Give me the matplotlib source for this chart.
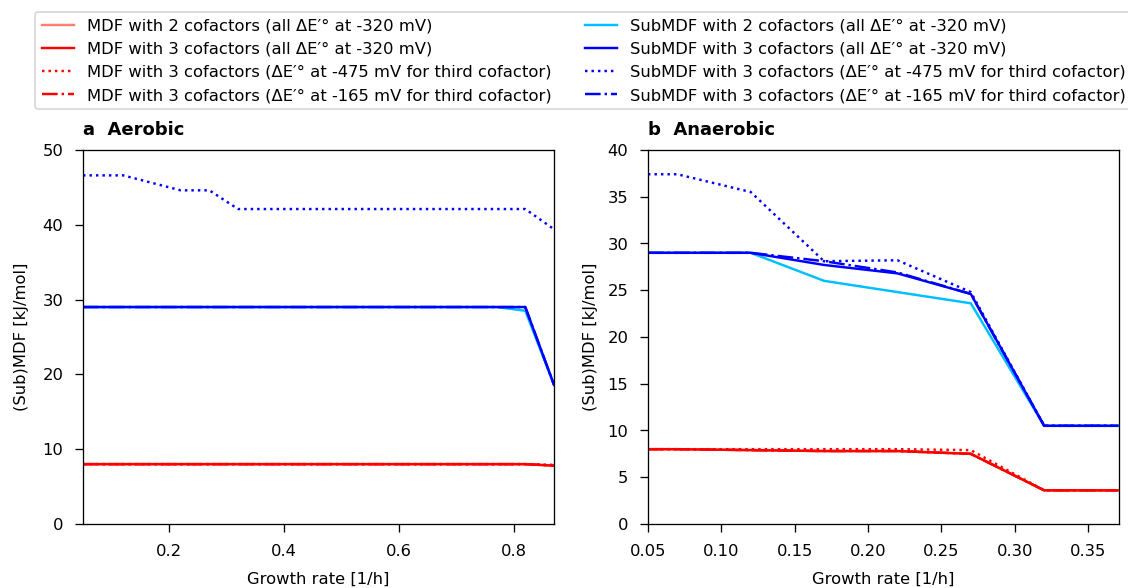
#(Sub)MDF vs growth rate, aerobic and anaerobic

import matplotlib
matplotlib.use('Agg')
import matplotlib.pyplot as plt

#AEROBIC DATA
aer_rate = [0.05, 0.07, 0.12, 0.17, 0.22, 0.27, 0.32, 0.37, 0.42, 0.47,
            0.52, 0.57, 0.62, 0.67, 0.72, 0.77, 0.82, 0.87]
aer_mdf2 = [8.0] * 17 + [7.8]
aer_mdf3 = [8.0] * 17 + [7.8]
aer_mdf3_475 = [8.0] * 17 + [7.9]
aer_mdf3_165 = [8.0] * 17 + [7.8]
aer_sub2 = [29.0] * 16 + [28.5, 18.6]
aer_sub3 = [29.0] * 17 + [18.6]
aer_sub3_475 = [46.6, 46.6, 46.6, 45.6, 44.6, 44.6] + [42.1] * 11 + [39.4]
aer_sub3_165 = [29.0] * 17 + [18.6]

#ANAEROBIC DATA
ana_rate = [0.05, 0.07, 0.12, 0.17, 0.22, 0.27, 0.32, 0.37]
ana_mdf2 = [8.0, 8.0, 7.9, 7.8, 7.8, 7.5, 3.6, 3.6]
ana_mdf3 = [8.0, 8.0, 7.9, 7.8, 7.8, 7.5, 3.6, 3.6]
ana_mdf3_475 = [8.0, 8.0, 8.0, 8.0, 8.0, 7.9, 3.6, 3.6]
ana_mdf3_165 = [8.0, 8.0, 7.9, 7.8, 7.8, 7.5, 3.6, 3.6]
ana_sub2 = [29.0, 29.0, 29.0, 26.0, 24.8, 23.6, 10.5, 10.5]
ana_sub3 = [29.0, 29.0, 29.0, 27.7, 26.8, 24.6, 10.5, 10.5]
ana_sub3_475 = [37.4, 37.4, 35.5, 28.1, 28.2, 24.8, 10.5, 10.5]
ana_sub3_165 = [29.0, 29.0, 29.0, 28.1, 26.9, 24.6, 10.5, 10.5]

labels = [
    "MDF with 2 cofactors (all ΔE′° at -320 mV)",
    "MDF with 3 cofactors (all ΔE′° at -320 mV)",
    "MDF with 3 cofactors (ΔE′° at -475 mV for third cofactor)",
    "MDF with 3 cofactors (ΔE′° at -165 mV for third cofactor)",
    "SubMDF with 2 cofactors (all ΔE′° at -320 mV)",
    "SubMDF with 3 cofactors (all ΔE′° at -320 mV)",
    "SubMDF with 3 cofactors (ΔE′° at -475 mV for third cofactor)",
    "SubMDF with 3 cofactors (ΔE′° at -165 mV for third cofactor)",
]
colors = ['salmon', 'red', 'red', 'red', 'deepskyblue', 'blue', 'blue', 'blue']
styles = ['-', '-', ':', '-.', '-', '-', ':', '-.']

aer_series = [aer_mdf2, aer_mdf3, aer_mdf3_475, aer_mdf3_165,
              aer_sub2, aer_sub3, aer_sub3_475, aer_sub3_165]
ana_series = [ana_mdf2, ana_mdf3, ana_mdf3_475, ana_mdf3_165,
              ana_sub2, ana_sub3, ana_sub3_475, ana_sub3_165]

plt.rcParams['xtick.major.size'] = 5
plt.rcParams['ytick.major.size'] = 5
plt.rcParams['xtick.major.pad'] = 7
plt.rcParams['ytick.major.pad'] = 7

fig = plt.figure(figsize=(9.6, 5.005), dpi=117.5)
W, H = 1128, 588
ax1 = fig.add_axes([83 / W, 1 - 524 / H, (554 - 83) / W, (524 - 150) / H])
ax2 = fig.add_axes([648 / W, 1 - 524 / H, (1119 - 648) / W, (524 - 150) / H])

handles = []
for y, c, s, lab in zip(aer_series, colors, styles, labels):
    h, = ax1.plot(aer_rate, y, color=c, linestyle=s, linewidth=1.5, label=lab)
    handles.append(h)
for y, c, s in zip(ana_series, colors, styles):
    ax2.plot(ana_rate, y, color=c, linestyle=s, linewidth=1.5)

ax1.set_xlim(0.05, 0.87)
ax1.set_ylim(0, 50)
ax1.set_xticks([0.2, 0.4, 0.6, 0.8])
ax1.set_title('a  Aerobic', loc='left', fontweight='bold', fontsize=11, pad=9)

ax2.set_xlim(0.05, 0.371)
ax2.set_ylim(0, 40)
ax2.set_xticks([0.05, 0.10, 0.15, 0.20, 0.25, 0.30, 0.35])
ax2.set_title('b  Anaerobic', loc='left', fontweight='bold', fontsize=11, pad=9)

ax1.set_ylabel('(Sub)MDF [kJ/mol]', labelpad=8)
ax2.set_ylabel('(Sub)MDF [kJ/mol]', labelpad=6)
for ax in (ax1, ax2):
    ax.set_xlabel('Growth rate [1/h]', labelpad=8)

fig.legend(handles=handles, ncol=2, loc='upper left',
           bbox_to_anchor=(35 / W, 1 - 12 / H), borderaxespad=0)

fig.savefig('out.png', dpi=117.5)
